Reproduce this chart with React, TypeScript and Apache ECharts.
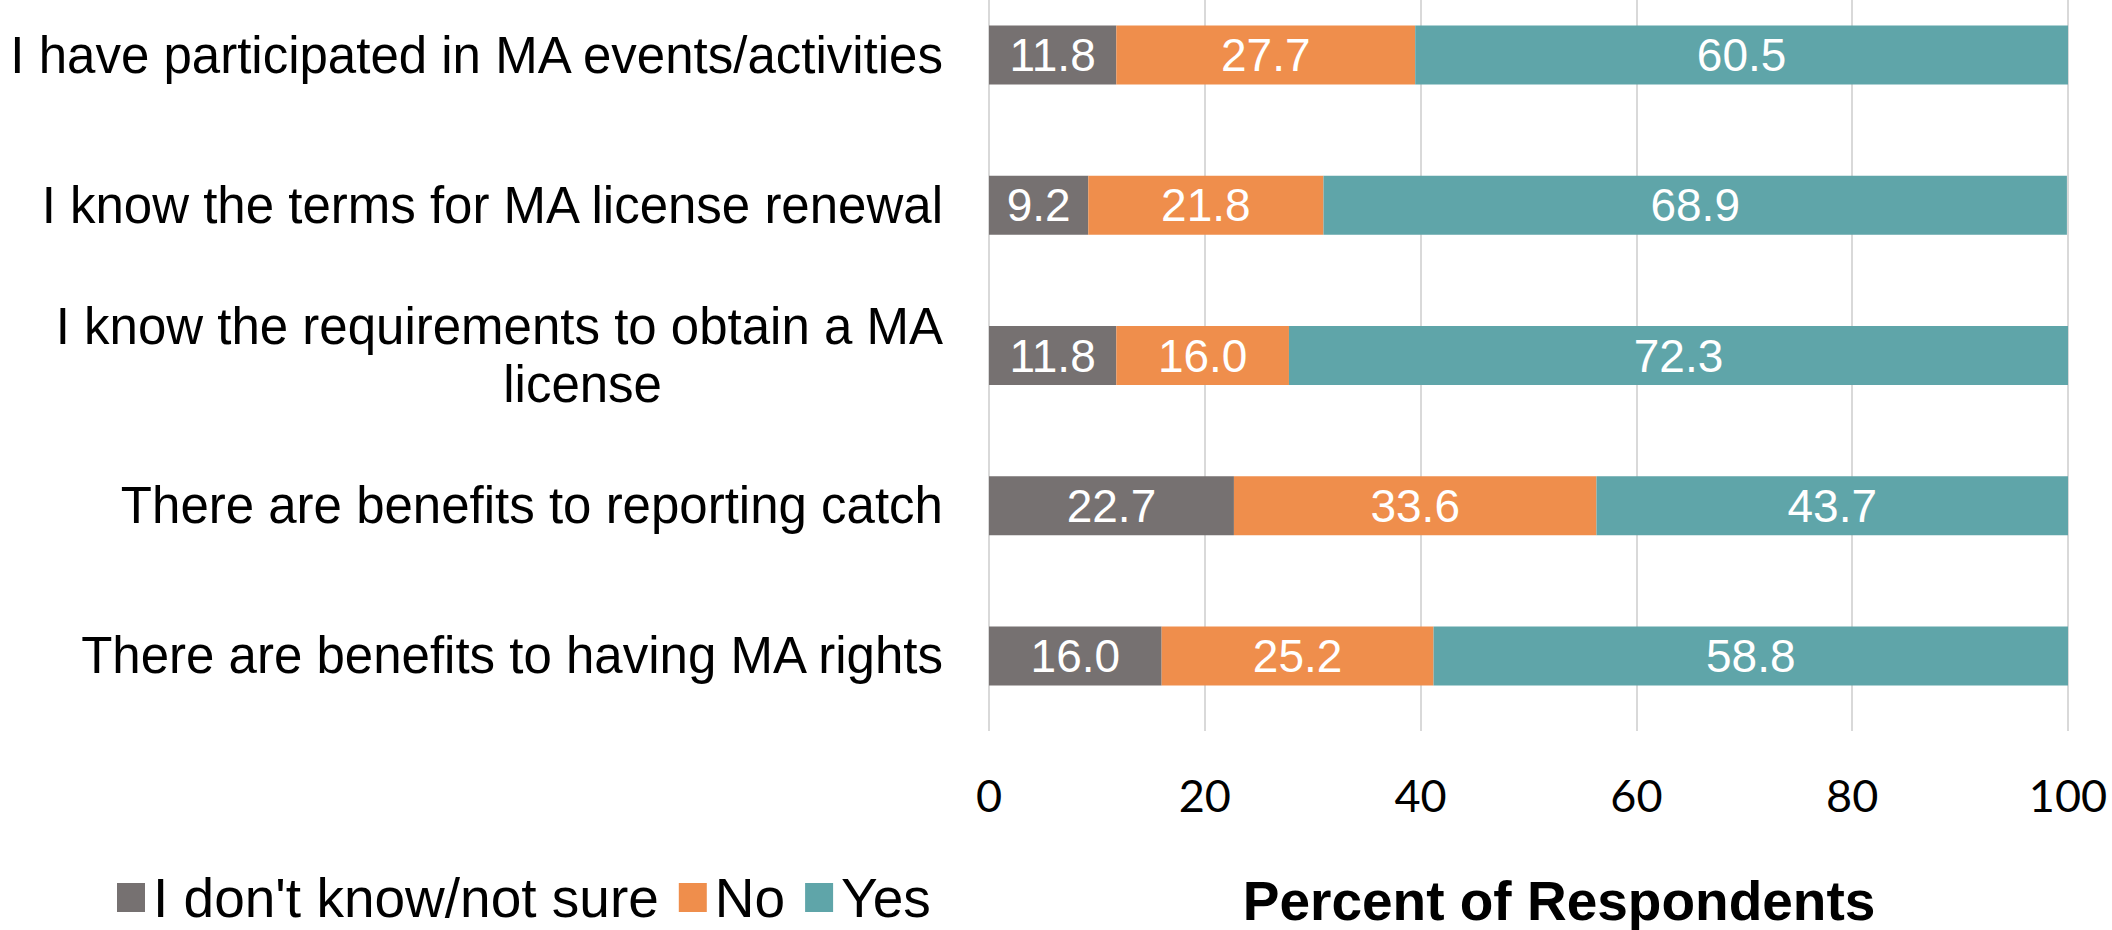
import React, { useEffect, useRef } from "react";
import * as echarts from "echarts";

const categories = [
  "I have participated in MA events/activities",
  "I know the terms for MA license renewal",
  "I know the requirements to obtain a MA\nlicense",
  "There are benefits to reporting catch",
  "There are benefits to having MA rights",
];
const dontKnow = [11.8, 9.2, 11.8, 22.7, 16.0];
const no = [27.7, 21.8, 16.0, 33.6, 25.2];
const yes = [60.5, 68.9, 72.3, 43.7, 58.8];
const seriesNames = ["I don't know/not sure", "No", "Yes"];
const colors = ["#767171", "#EF8E4C", "#5FA5A9"];
const xTicks = { min: 0, max: 100, interval: 20 };
const xTitle = "Percent of Respondents";

const FONT = '"Liberation Sans", Arial, sans-serif';
const SHIFT = 20; // chart canvas starts 20px above the page top

export default function App() {
  const ref = useRef<HTMLDivElement>(null);
  useEffect(() => {
    document.body.style.margin = "0";
    const chart = echarts.init(ref.current!, null, { renderer: "svg" });
    const mk = (name: string, data: number[], color: string) => ({
      name,
      type: "bar",
      stack: "total",
      barWidth: 59,
      data,
      itemStyle: { color },
      label: {
        show: true,
        position: "inside",
        color: "#fff",
        fontFamily: FONT,
        fontSize: 46,
        formatter: (p: any) => Number(p.value).toFixed(1),
      },
    });
    chart.setOption({
      animation: false,
      color: colors,
      grid: { left: 989, right: 44, top: 0, bottom: 199, containLabel: false },
      legend: {
        left: 117,
        top: 870 + SHIFT,
        padding: 0,
        itemWidth: 28,
        itemHeight: 29,
        itemGap: 20,
        icon: "rect",
        selectedMode: false,
        textStyle: {
          fontFamily: FONT,
          fontSize: 55,
          color: "#000",
          lineHeight: 55,
          padding: [0, 0, 0, 3],
        },
        data: seriesNames,
      },
      xAxis: {
        type: "value",
        min: xTicks.min,
        max: xTicks.max,
        interval: xTicks.interval,
        axisLine: { show: false },
        axisTick: { show: false },
        splitLine: { show: true, lineStyle: { color: "#d9d9d9", width: 2 } },
        axisLabel: {
          fontFamily: "Lato, sans-serif",
          fontSize: 45,
          color: "#000",
          margin: 41,
        },
      },
      yAxis: {
        type: "category",
        inverse: true,
        data: categories,
        axisLine: { show: false },
        axisTick: { show: false },
        axisLabel: {
          margin: 46,
          fontFamily: FONT,
          fontSize: 51,
          color: "#000",
          lineHeight: 58,
          formatter: (v: string) => {
            if (v.includes("\n")) {
              const [a, b] = v.split("\n");
              return `{a|${a}}\n{b|${b}}`;
            }
            return v;
          },
          rich: {
            a: { fontFamily: FONT, fontSize: 51, color: "#000", lineHeight: 58, align: "right" },
            b: {
              fontFamily: FONT,
              fontSize: 51,
              color: "#000",
              lineHeight: 58,
              align: "right",
              padding: [0, 281, 0, 0],
            },
          },
        },
      },
      graphic: [
        {
          type: "text",
          x: 1559,
          y: 901 + SHIFT,
          style: {
            text: xTitle,
            fontFamily: FONT,
            fontWeight: "bold",
            fontSize: 55,
            fill: "#000",
            align: "center",
            verticalAlign: "middle",
          },
        },
      ],
      series: [
        mk(seriesNames[0], dontKnow, colors[0]),
        mk(seriesNames[1], no, colors[1]),
        mk(seriesNames[2], yes, colors[2]),
      ],
    });
    return () => chart.dispose();
  }, []);
  return (
    <div style={{ width: 2112, height: 930, overflow: "hidden", position: "relative" }}>
      <div
        ref={ref}
        style={{ position: "absolute", left: 0, top: -SHIFT, width: 2112, height: 930 + SHIFT }}
      />
    </div>
  );
}
